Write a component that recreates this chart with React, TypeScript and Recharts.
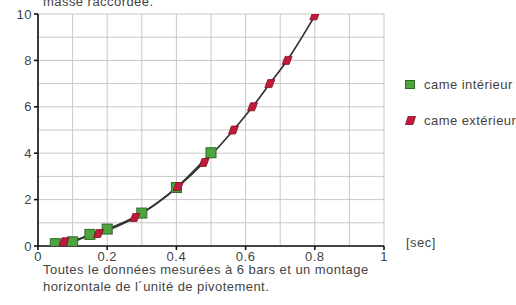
import React from "react";
import { ComposedChart, Line, XAxis, YAxis, CartesianGrid } from "recharts";

const innerX = [0.05, 0.1, 0.15, 0.2, 0.3, 0.4, 0.5];
const innerY = [0.1, 0.18, 0.5, 0.73, 1.42, 2.52, 4.02];
const outerX = [0.075, 0.175, 0.28, 0.405, 0.48, 0.565, 0.62, 0.67, 0.72, 0.8];
const outerY = [0.18, 0.54, 1.23, 2.56, 3.6, 5.0, 6.0, 7.0, 8.0, 9.92];
const xTicks = [0, 0.2, 0.4, 0.6, 0.8, 1];
const yTicks = [0, 2, 4, 6, 8, 10];
const xGrid = [0, 0.1, 0.2, 0.3, 0.4, 0.5, 0.6, 0.7, 0.8, 0.9, 1];
const yGrid = [0, 1, 2, 3, 4, 5, 6, 7, 8, 9, 10];

const inner = innerX.map((x, i) => ({ x, y: innerY[i] }));
const outer = outerX.map((x, i) => ({ x, y: outerY[i] }));

const font = "'Liberation Sans', Arial, Helvetica, sans-serif";
const GREEN = "#4ea43f";
const RED = "#c21a3c";
const txt = { fontSize: 13, letterSpacing: 0.45, color: "#444", whiteSpace: "nowrap" as const };

const SquareDot = (p: any) => (
  <rect key={p.index} x={p.cx - 5} y={p.cy - 5} width={10} height={10} fill={GREEN} stroke="#2e6a26" strokeWidth={1} />
);

const SkewDot = (p: any) => {
  const { cx, cy } = p;
  const pts = `${cx - 5},${cy + 4} ${cx - 2},${cy - 4} ${cx + 5},${cy - 4} ${cx + 2},${cy + 4}`;
  return <polygon key={p.index} points={pts} fill={RED} stroke="#7c1126" strokeWidth={0.8} />;
};

export default function App() {
  return (
    <div style={{ position: "absolute", left: 0, top: 0, width: 516, height: 305, background: "#fff", fontFamily: font, overflow: "hidden" }}>
      <div style={{ ...txt, position: "absolute", left: 43, top: -6 }}>masse raccordée.</div>
      <ComposedChart width={516} height={305} margin={{ top: 14, right: 132, left: 0, bottom: 39 }}>
        <CartesianGrid stroke="#c8c8c8" strokeWidth={1} verticalValues={xGrid} horizontalValues={yGrid} />
        <XAxis
          type="number"
          dataKey="x"
          domain={[0, 1]}
          ticks={xTicks}
          allowDataOverflow
          axisLine={{ stroke: "#111", strokeWidth: 1.6 }}
          tickLine={{ stroke: "#111", strokeWidth: 1.6 }}
          tickSize={4}
          height={20}
          tick={{ fill: "#444", fontSize: 13, fontFamily: font, letterSpacing: 0.5 }}
          tickFormatter={(v: number) => String(v)}
        />
        <YAxis
          type="number"
          dataKey="y"
          domain={[0, 10]}
          ticks={yTicks}
          allowDataOverflow
          width={38}
          axisLine={{ stroke: "#111", strokeWidth: 1.6 }}
          tickLine={{ stroke: "#111", strokeWidth: 1.6 }}
          tickSize={4}
          tick={{ fill: "#444", fontSize: 13, fontFamily: font, letterSpacing: 0.5 }}
        />
        <Line data={inner} dataKey="y" type="monotone" stroke="#333" strokeWidth={1.7} dot={SquareDot} activeDot={false} isAnimationActive={false} />
        <Line data={outer} dataKey="y" type="monotone" stroke="#333" strokeWidth={1.7} dot={SkewDot} activeDot={false} isAnimationActive={false} />
      </ComposedChart>
      <div style={{ ...txt, position: "absolute", left: 405, top: 77, display: "flex", alignItems: "center" }}>
        <span style={{ width: 10, height: 9, background: GREEN, border: "1px solid #2e6a26", boxSizing: "border-box", marginRight: 9, flexShrink: 0 }} />
        came intérieur
      </div>
      <div style={{ ...txt, position: "absolute", left: 405, top: 113, display: "flex", alignItems: "center" }}>
        <svg width={11} height={9} style={{ marginRight: 8, flexShrink: 0 }}>
          <polygon points="0.5,8.5 3,0.5 10.5,0.5 8,8.5" fill={RED} stroke="#7c1126" strokeWidth={0.8} />
        </svg>
        came extérieur
      </div>
      <div style={{ ...txt, position: "absolute", left: 406, top: 235 }}>[sec]</div>
      <div style={{ ...txt, position: "absolute", left: 43, top: 261, lineHeight: "17px" }}>
        Toutes le données mesurées à 6 bars et un montage
        <br />
        horizontale de l´unité de pivotement.
      </div>
    </div>
  );
}
